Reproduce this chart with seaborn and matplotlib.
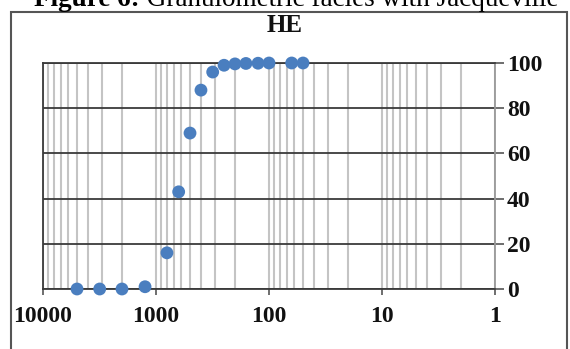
import matplotlib
matplotlib.use("Agg")
import matplotlib.pyplot as plt
import matplotlib.ticker as mticker
from matplotlib.patches import Rectangle
import seaborn as sns
import pandas as pd

# Data
grain_size = [5000, 3150, 2000, 1250, 800, 630, 500, 400, 315, 250, 200, 160, 125, 100, 63, 50]
cumulative = [0, 0, 0, 1, 16, 43, 69, 88, 96, 99, 99.6, 99.8, 99.9, 100, 100, 100]
x_ticks = [10000, 1000, 100, 10, 1]
x_tick_labels = ["10000", "1000", "100", "10", "1"]
y_ticks = [0, 20, 40, 60, 80, 100]
chart_title = "HE"
caption_bold = "Figure 6:"
caption_rest = " Granulometric facies with Jacqueville"

df = pd.DataFrame({"size": grain_size, "pct": cumulative})

sns.set_theme(style="white")
plt.rcParams["font.family"] = ["Liberation Serif", "DejaVu Serif"]

fig = plt.figure(figsize=(5.70, 3.49), dpi=100)
ax = fig.add_axes([43 / 570, 1 - 289 / 349, (495 - 43) / 570, (289 - 63) / 349])

sns.scatterplot(data=df, x="size", y="pct", ax=ax, color="#4A7EBF",
                s=85, edgecolor="none", zorder=5, clip_on=False, legend=False)

ax.set_xscale("log")
ax.set_xlim(10000, 1)
ax.set_ylim(0, 100)

ax.xaxis.set_major_locator(mticker.FixedLocator(x_ticks))
ax.xaxis.set_major_formatter(mticker.FixedFormatter(x_tick_labels))
ax.xaxis.set_minor_locator(mticker.LogLocator(base=10, subs=range(2, 10)))
ax.xaxis.set_minor_formatter(mticker.NullFormatter())
ax.yaxis.set_major_locator(mticker.FixedLocator(y_ticks))

ax.yaxis.tick_right()
ax.tick_params(axis="y", which="major", direction="out", length=6.5, width=1.2,
               color="#555555", labelsize=17, pad=2)
ax.tick_params(axis="x", which="major", direction="out", length=4.5, width=1.2,
               color="#555555", labelsize=17, pad=8, bottom=True)
ax.tick_params(axis="x", which="minor", length=0)
for lab in ax.get_xticklabels() + ax.get_yticklabels():
    lab.set_fontweight("bold")
    lab.set_color("#111111")

ax.grid(True, axis="x", which="both", color="#C4C4C4", linewidth=1.5)
ax.grid(True, axis="y", which="major", color="#3A3A3A", linewidth=1.3)
ax.set_axisbelow(True)

for side in ["left", "bottom", "top"]:
    ax.spines[side].set_visible(True)
    ax.spines[side].set_color("#3A3A3A")
    ax.spines[side].set_linewidth(1.3)
ax.spines["right"].set_visible(True)
ax.spines["right"].set_color("#999999")
ax.spines["right"].set_linewidth(1.3)

ax.set_xlabel("")
ax.set_ylabel("")

fig.text(0.5, 1 - 26 / 349, chart_title, ha="center", va="center",
         fontsize=18, fontweight="bold", color="#111111")

# Outer chart border
fig.add_artist(Rectangle((11 / 570, -0.2), (567 - 11) / 570, 1.2 - 12 / 349,
                         transform=fig.transFigure, fill=False,
                         edgecolor="#555555", linewidth=1.5))

# Caption (partly cut off at the top, as in the reference)
t1 = fig.text(34 / 570, 1 - 6 / 349, caption_bold, ha="left", va="baseline",
              fontsize=19.5, fontweight="bold", color="black")
fig.canvas.draw()
bb = t1.get_window_extent()
fig.text(bb.x1 / fig.bbox.width, 1 - 6 / 349, caption_rest, ha="left",
         va="baseline", fontsize=19.5, color="black")

fig.savefig("out.png", dpi=100)
